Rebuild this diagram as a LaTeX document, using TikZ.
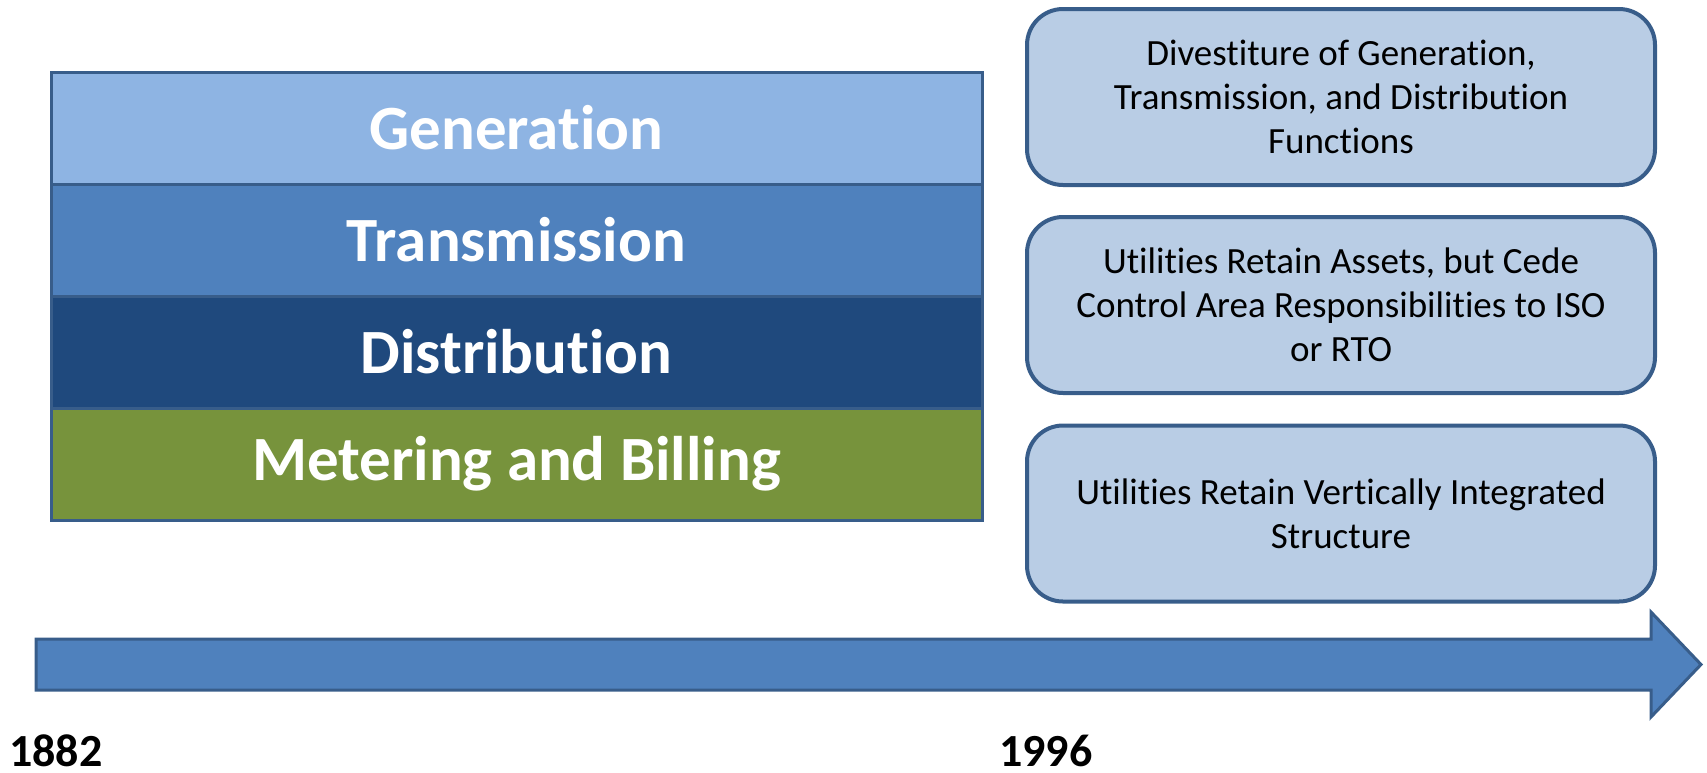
\documentclass[tikz,border=0pt]{standalone}
\usepackage{fontspec}
\setmainfont[Ligatures=NoCommon]{Carlito}
\definecolor{genblue}{HTML}{8EB4E3}
\definecolor{trblue}{HTML}{4F81BD}
\definecolor{distblue}{HTML}{1F497D}
\definecolor{meetgreen}{HTML}{77933C}
\definecolor{edgeblue}{HTML}{385D8A}
\definecolor{paleblue}{HTML}{B9CDE5}
\begin{document}
\begin{tikzpicture}[x=1pt,y=-1pt,
  band/.style={draw=edgeblue,line width=3pt,minimum width=931pt,minimum height=112pt,
    inner sep=0pt,text=white,font=\fontsize{63}{75}\selectfont\bfseries},
  eventbox/.style={draw=edgeblue,line width=4pt,fill=paleblue,rounded corners=36pt,
    minimum width=628pt,minimum height=176pt,inner sep=0pt,align=center,
    font=\fontsize{37}{44}\selectfont},
  year/.style={anchor=base west,inner sep=0pt,font=\fontsize{46}{50}\selectfont\bfseries}]
\useasboundingbox (0,0) rectangle (1707,772);

% functional layers of a vertically integrated utility
\node[band,fill=genblue]   (gen)   at (516.5,128) {Generation};
\node[band,fill=trblue]    (trans) at (516.5,240) {Transmission};
\node[band,fill=distblue]  (dist)  at (516.5,352) {Distribution};
\node[band,fill=meetgreen] (meter) at (516.5,464) {Metering and Billing};

% restructuring outcomes
\node[eventbox] (divest) at (1341,97)  {Divestiture of Generation,\\Transmission, and Distribution\\Functions};
\node[eventbox] (iso)    at (1341,305) {Utilities Retain Assets, but Cede\\Control Area Responsibilities to ISO\\or RTO};
\node[eventbox] (vert)   at (1341,513.5) {Utilities Retain Vertically Integrated\\Structure};

% timeline arrow
\draw[draw=edgeblue,line width=3pt,fill=trblue,line join=miter]
  (36,639) -- (1651,639) -- (1651,612) -- (1701,664.5) -- (1651,717) -- (1651,690) -- (36,690) -- cycle;

% years
\node[year] (y1882) at (9,766)   {1882};
\node[year] (y1996) at (999,766) {1996};
\end{tikzpicture}
\end{document}
